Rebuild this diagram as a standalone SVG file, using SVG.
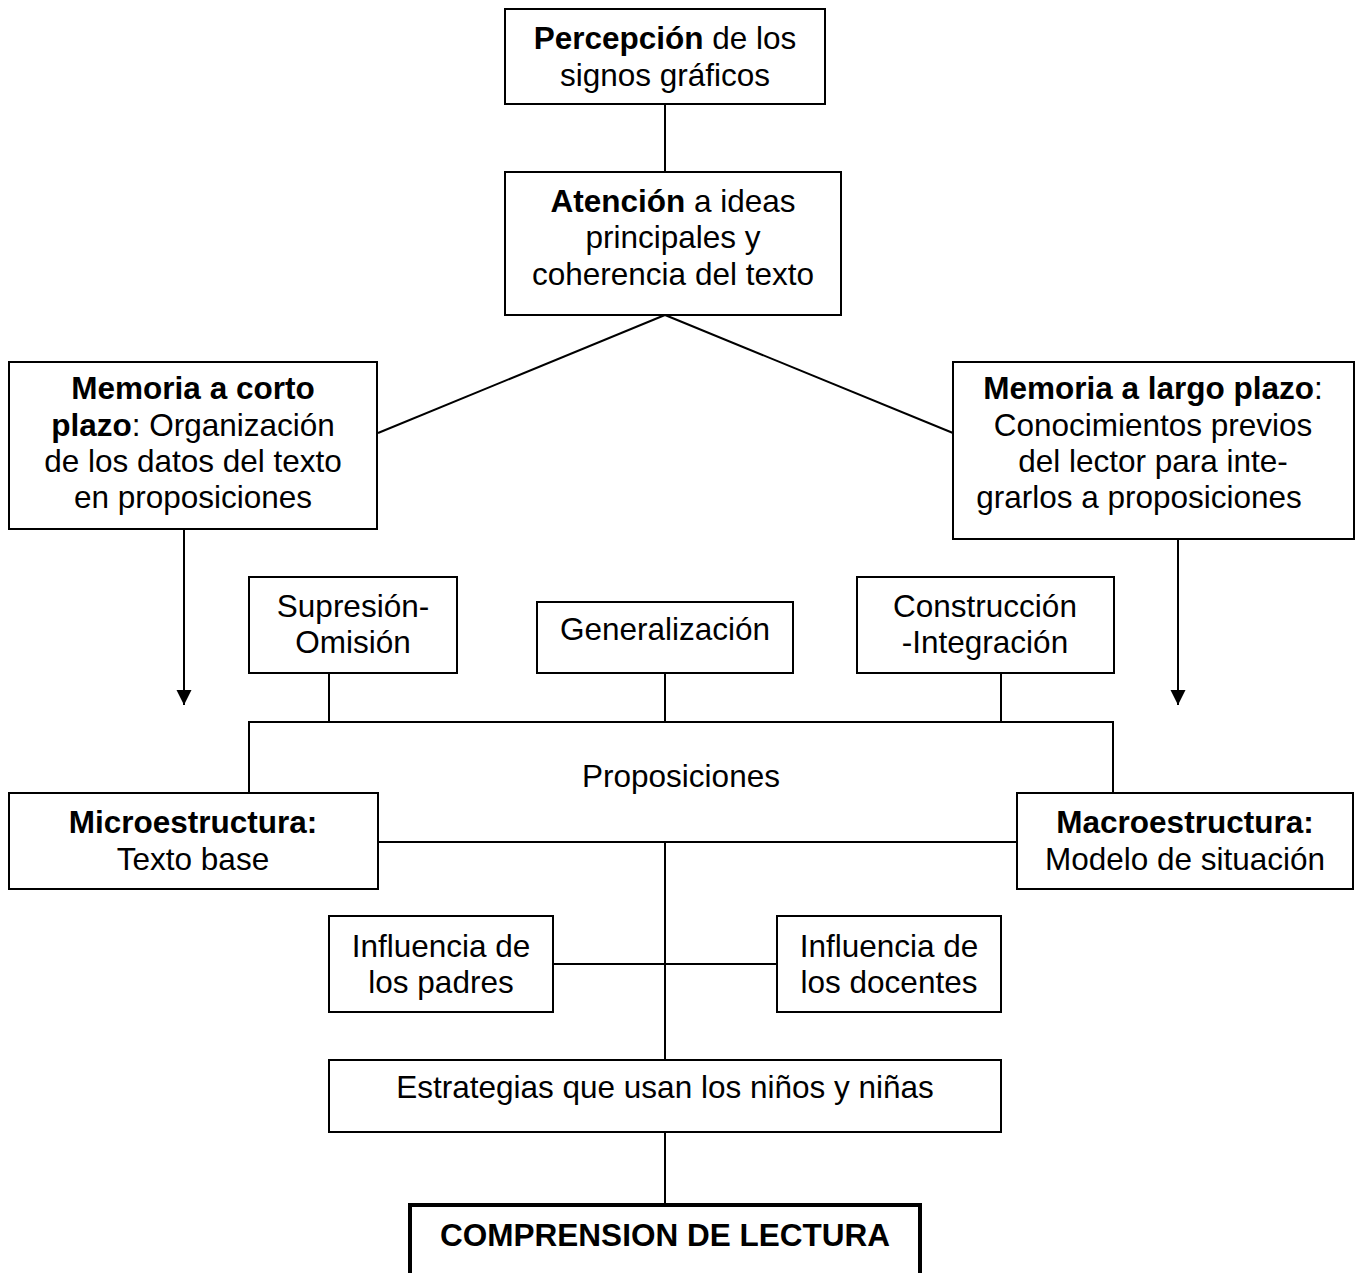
<svg xmlns="http://www.w3.org/2000/svg" width="1359" height="1273" viewBox="0 0 1359 1273">
<style>
.box{fill:#fff;stroke:#000;stroke-width:2}
.thick{fill:#fff;stroke:#000;stroke-width:4}
.c{fill:none;stroke:#000;stroke-width:2}
text{font-family:"Liberation Sans",Arial,sans-serif;font-size:31.5px;fill:#000;text-anchor:middle}
.b{font-weight:bold}
</style>
<defs>
<marker id="arr" markerUnits="userSpaceOnUse" markerWidth="16" markerHeight="16" viewBox="0 0 16 16" refX="15" refY="8" orient="auto">
<path d="M0,0.5 L15,8 L0,15.5 Z" fill="#000"/>
</marker>
</defs>
<rect width="1359" height="1273" fill="#fff"/>
<g id="connectors">
<line class="c" x1="665" y1="104" x2="665" y2="172"/>
<line class="c" x1="665" y1="315" x2="378" y2="433"/>
<line class="c" x1="665" y1="315" x2="953" y2="433"/>
<line class="c" x1="184" y1="529" x2="184" y2="705" marker-end="url(#arr)"/>
<line class="c" x1="1178" y1="531" x2="1178" y2="705" marker-end="url(#arr)"/>
<line class="c" x1="329" y1="673" x2="329" y2="722"/>
<line class="c" x1="665" y1="673" x2="665" y2="722"/>
<line class="c" x1="1001" y1="673" x2="1001" y2="722"/>
<polyline class="c" points="249,793 249,722 1113,722 1113,793"/>
<line class="c" x1="378" y1="842" x2="1017" y2="842"/>
<line class="c" x1="665" y1="842" x2="665" y2="1060"/>
<line class="c" x1="553" y1="964" x2="777" y2="964"/>
<line class="c" x1="665" y1="1132" x2="665" y2="1204"/>
</g>
<g id="percepcion">
<rect class="box" x="505" y="9" width="320" height="95"/>
<text x="665" y="49"><tspan class="b">Percepción</tspan> de los</text>
<text x="665" y="86">signos gráficos</text>
</g>
<g id="atencion">
<rect class="box" x="505" y="172" width="336" height="143"/>
<text x="673" y="212"><tspan class="b">Atención</tspan> a ideas</text>
<text x="673" y="248">principales y</text>
<text x="673" y="285">coherencia del texto</text>
</g>
<g id="memoria-corto">
<rect class="box" x="9" y="362" width="368" height="167"/>
<text x="193" y="399" class="b">Memoria a corto</text>
<text x="193" y="436"><tspan class="b">plazo</tspan>: Organización</text>
<text x="193" y="472">de los datos del texto</text>
<text x="193" y="508">en proposiciones</text>
</g>
<g id="memoria-largo">
<rect class="box" x="953" y="362" width="401" height="177"/>
<text x="1153" y="399"><tspan class="b">Memoria a largo plazo</tspan>:</text>
<text x="1153" y="436">Conocimientos previos</text>
<text x="1153" y="472">del lector para inte-</text>
<text x="1139" y="508">grarlos a proposiciones</text>
</g>
<g id="supresion">
<rect class="box" x="249" y="577" width="208" height="96"/>
<text x="353" y="617">Supresión-</text>
<text x="353" y="653">Omisión</text>
</g>
<g id="generalizacion">
<rect class="box" x="537" y="602" width="256" height="71"/>
<text x="665" y="640">Generalización</text>
</g>
<g id="construccion">
<rect class="box" x="857" y="577" width="257" height="96"/>
<text x="985" y="617">Construcción</text>
<text x="985" y="653">-Integración</text>
</g>
<g id="proposiciones">
<text x="681" y="787">Proposiciones</text>
</g>
<g id="microestructura">
<rect class="box" x="9" y="793" width="369" height="96"/>
<text x="193" y="833" class="b">Microestructura:</text>
<text x="193" y="870">Texto base</text>
</g>
<g id="macroestructura">
<rect class="box" x="1017" y="793" width="336" height="96"/>
<text x="1185" y="833" class="b">Macroestructura:</text>
<text x="1185" y="870">Modelo de situación</text>
</g>
<g id="influencia-padres">
<rect class="box" x="329" y="916" width="224" height="96"/>
<text x="441" y="957">Influencia de</text>
<text x="441" y="993">los padres</text>
</g>
<g id="influencia-docentes">
<rect class="box" x="777" y="916" width="224" height="96"/>
<text x="889" y="957">Influencia de</text>
<text x="889" y="993">los docentes</text>
</g>
<g id="estrategias">
<rect class="box" x="329" y="1060" width="672" height="72"/>
<text x="665" y="1098">Estrategias que usan los niños y niñas</text>
</g>
<g id="comprension">
<rect class="thick" x="410" y="1205" width="510" height="100"/>
<text x="665" y="1246" class="b">COMPRENSION DE LECTURA</text>
</g>
</svg>
